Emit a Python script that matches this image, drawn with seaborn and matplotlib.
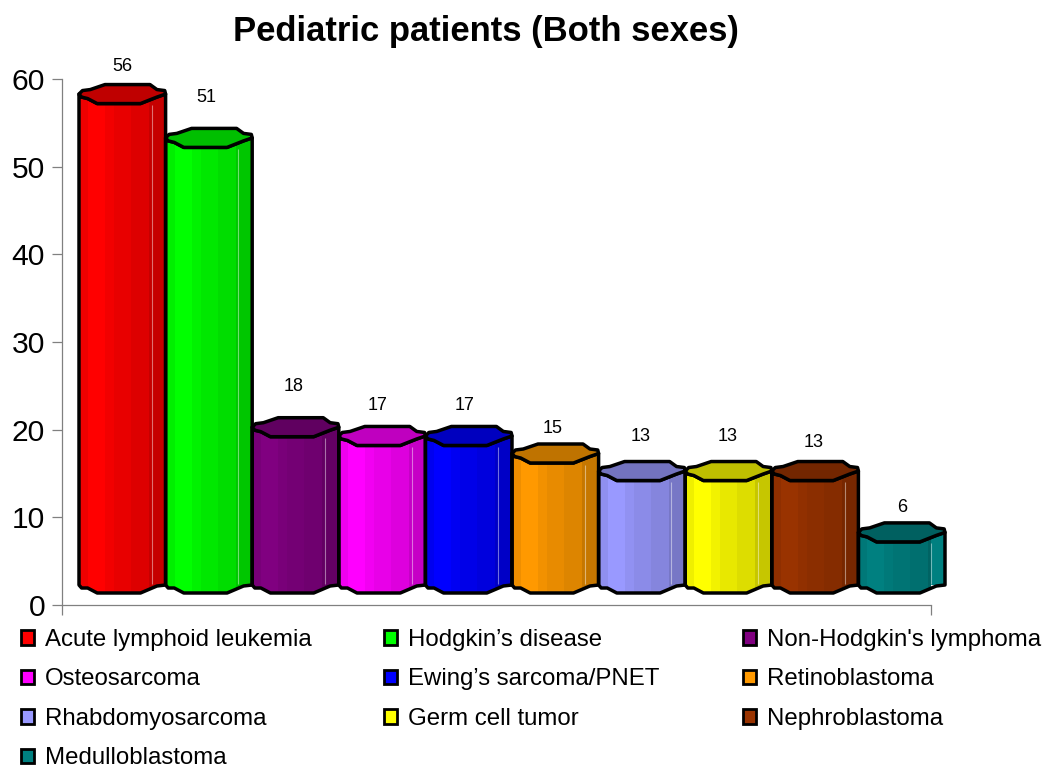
import numpy as np
import pandas as pd
import matplotlib
matplotlib.use("Agg")
import matplotlib.pyplot as plt
from matplotlib.patches import Polygon, Patch
import seaborn as sns

# ---- data ----
diseases = ["Acute lymphoid leukemia", "Hodgkin\u2019s disease", "Non-Hodgkin's lymphoma",
            "Osteosarcoma", "Ewing\u2019s sarcoma/PNET", "Retinoblastoma",
            "Rhabdomyosarcoma", "Germ cell tumor", "Nephroblastoma", "Medulloblastoma"]
patients = [56, 51, 18, 17, 17, 15, 13, 13, 13, 6]
colors = ["#FF0000", "#00FF00", "#800080", "#FF00FF", "#0000FF",
          "#FF9900", "#9999FF", "#FFFF00", "#993300", "#008080"]
title = "Pediatric patients (Both sexes)"

# ---- style (pixels at 100 dpi) ----
W, H = 1043, 765
AX_L, AX_R, AX_T, AX_B = 62, 931, 79, 605
PX_PER_UNIT = (AX_B - AX_T) / 60.0
LIFT_PX = 20
BAR_PX = 86.6
FIRST_CENTER_PX = 122.3
LABEL_GAP_PX = [27.5, 40, 40.5, 30.5, 30.5, 25, 34.5, 34.5, 28.5, 25]
LABEL_SHIFT_PX = [0, -3, -2, -5, -4, -3, -1, -1, -1, 0]
FRONT = [(0, 0), (.03, 3), (.10, 4.5), (.21, 9.5), (.71, 9.5), (.90, 3), (1, 0)]
BACK = [(1, 0), (.99, -3.5), (.90, -4.5), (.82, -9.5), (.30, -9.5), (.13, -4.5), (.04, -3.5), (0, 0)]
BOTTOM = [(0, 0), (.03, 3), (.10, 3), (.21, 8), (.71, 8), (.90, 1), (1, 0)]
SHADE = [.94, .94, 1, 1, 1, 1, .95, .95, .91, .91, .91, .91, .87, .87, .87, .87, .78, .78, .78, .78]
TOP_SHADE = .75
EDGE_LW = 2.5

sns.set_style("white")
plt.rcParams["font.family"] = ["Liberation Sans", "DejaVu Sans"]

fig = plt.figure(figsize=(W / 100, H / 100), dpi=100)
ax = fig.add_axes([AX_L / W, 1 - AX_B / H, (AX_R - AX_L) / W, (AX_B - AX_T) / H])

df = pd.DataFrame({"disease": diseases, "patients": patients})
sns.barplot(data=df, x="disease", y="patients", hue="disease", order=diseases,
            hue_order=diseases, palette=colors, width=1, dodge=False, gap=0,
            saturation=1, legend=False, ax=ax)
bars = list(ax.patches)

lift = LIFT_PX / PX_PER_UNIT
for bar, col, gap, shift in zip(bars, colors, LABEL_GAP_PX, LABEL_SHIFT_PX):
    x0, w, v = bar.get_x(), bar.get_width(), bar.get_height()
    base = np.array(matplotlib.colors.to_rgb(col))
    bar.set_y(lift)
    bar.set_clip_on(False)
    bar.set_linewidth(0)
    bar.set_zorder(2)

    def pts(profile, level):
        return [(x0 + u * w, level - d / PX_PER_UNIT) for u, d in profile]

    y_top = lift + v
    body = pts(BOTTOM, lift) + pts(FRONT, y_top)[::-1]
    # stepped shading of the cylinder body
    shade = np.array(SHADE)[None, :, None] * base[None, None, :]
    lo = lift - 10 / PX_PER_UNIT
    hi = y_top + 12 / PX_PER_UNIT
    im = ax.imshow(shade, extent=(x0, x0 + w, lo, hi), aspect="auto",
                   interpolation="nearest", origin="lower", zorder=3)
    poly = Polygon(body, closed=True, fc="none", ec="black", lw=EDGE_LW,
                   joinstyle="round", zorder=4, clip_on=False)
    ax.add_patch(poly)
    im.set_clip_path(poly)
    # thin highlight line
    ax.vlines(x0 + .84 * w, lift + 1 / PX_PER_UNIT, y_top - 11 / PX_PER_UNIT,
              color="white", alpha=.45, lw=.8, zorder=3.5, clip_on=False)
    # top face
    ax.add_patch(Polygon(pts(BACK, y_top) + pts(FRONT, y_top)[1:],
                         closed=True, fc=base * TOP_SHADE, ec="black", lw=EDGE_LW,
                         joinstyle="round", zorder=5, clip_on=False))
    ax.annotate(str(int(v)), xy=(x0 + w / 2, v), xytext=(shift, LIFT_PX + gap),
                textcoords="offset pixels", ha="center", va="center",
                fontsize=13, color="black", annotation_clip=False, zorder=6)

ax.set_xlim((AX_L - FIRST_CENTER_PX) / BAR_PX, (AX_R - FIRST_CENTER_PX) / BAR_PX)
ax.set_ylim(0, 60)
ax.set_xlabel("")
ax.set_ylabel("")
ax.set_yticks(range(0, 61, 10))
ax.set_xticks(ax.get_xlim())
ax.set_xticklabels(["", ""])
ax.tick_params(axis="y", left=True, length=7.2, width=.9, color="#808080",
               labelsize=21.6, pad=5, labelcolor="black")
ax.tick_params(axis="x", bottom=True, length=7.2, width=.9, color="#808080")
for side in ("top", "right"):
    ax.spines[side].set_visible(False)
for side in ("left", "bottom"):
    ax.spines[side].set_color("#808080")
    ax.spines[side].set_linewidth(.9)
ax.patch.set_alpha(0)

fig.text(486 / W, 1 - 32 / H, title, ha="center", va="center",
         fontsize=24.9, fontweight="bold", color="black")

# legend: three columns filled row by row
col_x = [21, 384, 743]
for c, px in enumerate(col_x):
    handles = [Patch(fc=colors[i], ec="black", lw=2.0, label=diseases[i])
               for i in range(c, len(diseases), 3)]
    leg = fig.legend(handles=handles, loc="upper left",
                     bbox_to_anchor=(px / W, 1 - 629 / H),
                     bbox_transform=fig.transFigure, frameon=False,
                     fontsize=17.25, borderpad=0, borderaxespad=0,
                     labelspacing=.73, handlelength=.55, handleheight=.55,
                     handletextpad=.46, labelcolor="black")

fig.savefig("out.png", dpi=100, facecolor="white")
